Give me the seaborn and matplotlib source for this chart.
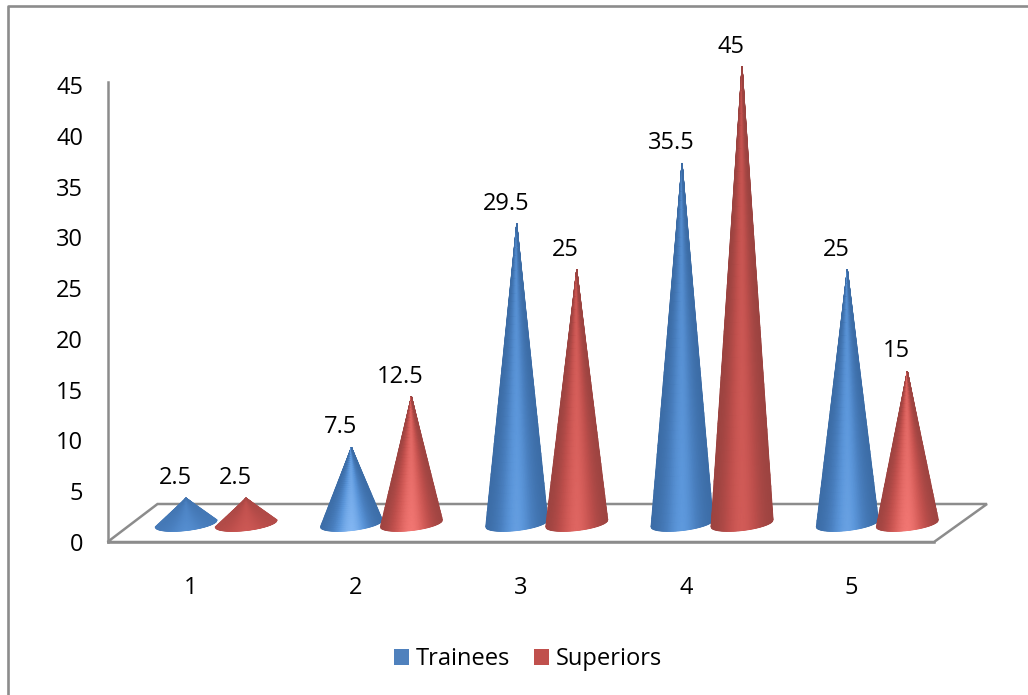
import numpy as np
import pandas as pd
import matplotlib
matplotlib.use("Agg")
import matplotlib.pyplot as plt
from matplotlib.collections import QuadMesh
from matplotlib.colors import LinearSegmentedColormap, Normalize
from matplotlib.lines import Line2D
from matplotlib.patches import Patch, Polygon
from matplotlib.transforms import Affine2D
import seaborn as sns

groups = ["1", "2", "3", "4", "5"]
trainees = [2.5, 7.5, 29.5, 35.5, 25]
superiors = [2.5, 12.5, 25, 45, 15]
series_names = ["Trainees", "Superiors"]
series_colors = ["#4F81BD", "#C0504D"]
y_ticks = [0, 5, 10, 15, 20, 25, 30, 35, 40, 45]

W, H = 1028, 695
GRAY = "#8C8C8C"
FONT_SIZE = 17

sns.set_theme(style="white")
plt.rcParams["font.family"] = ["Open Sans", "DejaVu Sans"]

fig = plt.figure(figsize=(W / 100, H / 100), dpi=100, facecolor="white")
ax = fig.add_axes([107.5 / W, 1 - 542 / H, 826.5 / W, 460 / H])

frame = pd.DataFrame({
    "group": groups * 2,
    "series": [series_names[0]] * 5 + [series_names[1]] * 5,
    "value": trainees + superiors,
})
sns.barplot(data=frame, x="group", y="value", hue="series", order=groups,
            hue_order=series_names, palette=series_colors, width=0.726,
            legend=False, ax=ax)

ax.set_xlim(-0.5, 4.5)
ax.set_ylim(0, 45.3)
ax.set_yticks(y_ticks)
ax.set_xlabel("")
ax.set_ylabel("")
ax.tick_params(axis="y", length=0, pad=17.5, labelsize=FONT_SIZE, labelcolor="black")
ax.tick_params(axis="x", length=0, pad=24.5, labelsize=FONT_SIZE, labelcolor="black")
for side in ("top", "right"):
    ax.spines[side].set_visible(False)
for side in ("left", "bottom"):
    ax.spines[side].set_color(GRAY)
    ax.spines[side].set_linewidth(1.8)

# Pseudo-3D depth: marks sit halfway back on the floor
depth = ax.transData + Affine2D().translate(26, 18.5)

# Floor outline, running from the front axis to the back edge
x0, x1 = ax.get_xlim()
front_l, front_r = ax.transData.transform([(x0, 0), (x1, 0)])
floor = Polygon([front_l, front_l + (50, 38), front_r + (53, 38), front_r],
                closed=True, fill=False, edgecolor=GRAY, linewidth=1.8,
                transform=None, clip_on=False, zorder=1)
ax.add_patch(floor)

cone_maps = [
    LinearSegmentedColormap.from_list(
        "blue_cone", [(0, "#38679F"), (0.35, "#4A80C0"), (0.6, "#5C97DB"), (1, "#8CBEF8")]),
    LinearSegmentedColormap.from_list(
        "red_cone", [(0, "#93403D"), (0.35, "#BE4F4C"), (0.6, "#D65E5A"), (1, "#F87C78")]),
]

px_x = ax.transData.inverted().transform((front_l[0] + 1, front_l[1]))[0] - x0
px_y = ax.transData.inverted().transform((front_l[0], front_l[1] + 1))[1]
half_base = 31 * px_x

# One cone per bar: shading follows the surface, so it converges at the tip
u = np.linspace(-1, 1, 81)
t = np.linspace(0, 1, 41)
U, T = np.meshgrid(u, t)
rim = (3.5 * U - 7 * np.sqrt(1 - U ** 2)) * px_y
for container, cmap in zip(ax.containers, cone_maps):
    for bar in container:
        cx = bar.get_x() + bar.get_width() / 2
        value = bar.get_height()
        X = cx + U * half_base * (1 - T)
        Y = value * T + rim * (1 - T)
        peak = np.interp(value, [2.5, 7.5, 15, 25, 45], [0.5, 0.92, 0.92, 0.7, 0.55])
        edge = np.interp(value, [2.5, 7.5], [0.25, 0.05])
        glow = np.exp(-(U / 0.6) ** 2)
        shade = (edge + (peak - edge) * glow) * (0.72 + 0.28 * (1 - T))
        mesh = QuadMesh(np.dstack([X, Y]), shading="gouraud", cmap=cmap,
                        norm=Normalize(0, 1), array=shade, transform=depth,
                        clip_on=False, zorder=3)
        ax.add_collection(mesh, autolim=False)
        ax.annotate(f"{value:g}", xy=(float(cx), float(value)), xycoords=depth,
                    xytext=(-11, 20), textcoords="offset pixels",
                    ha="center", va="center", fontsize=FONT_SIZE, color="black",
                    annotation_clip=False, zorder=5)
        bar.set_visible(False)

# Outer chart frame, visible along the top and left edges
fig.add_artist(Line2D([1.0, 8 / W, 8 / W], [1 - 6 / H, 1 - 6 / H, 0],
                      color=GRAY, linewidth=1.9, transform=fig.transFigure))

handles = [Patch(facecolor=c, edgecolor="none", label=n)
           for n, c in zip(series_names, series_colors)]
fig.legend(handles=handles, loc="center", bbox_to_anchor=(528 / W, 1 - 659 / H),
           ncol=2, frameon=False, fontsize=FONT_SIZE, handlelength=0.64,
           handleheight=0.64, handletextpad=0.3, columnspacing=1.0,
           labelcolor="black")

fig.savefig("out.png", dpi=100, facecolor="white")
